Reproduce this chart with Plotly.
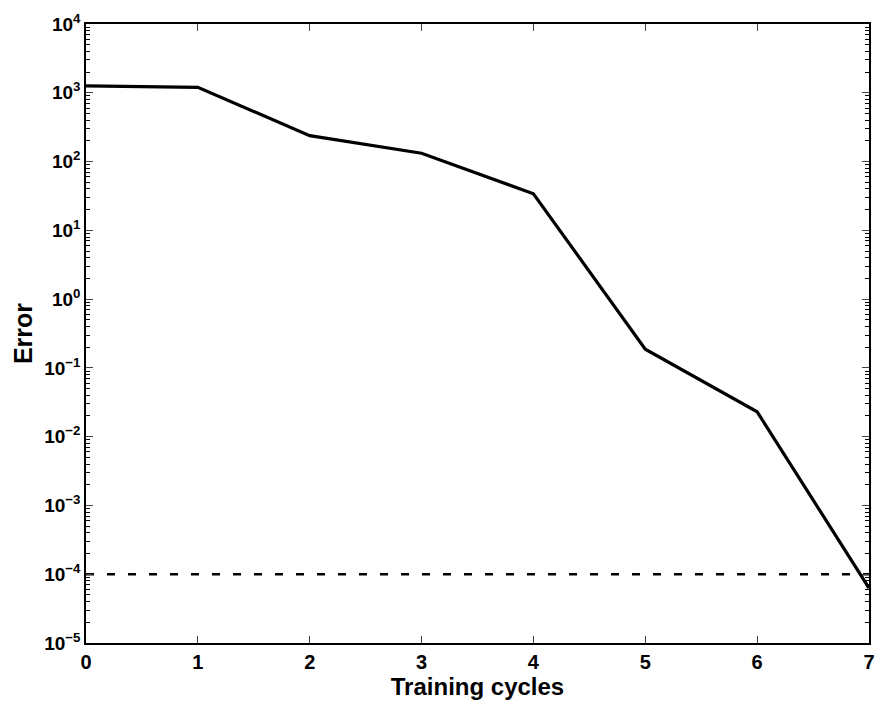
import plotly.graph_objects as go

cycles = [0, 1, 2, 3, 4, 5, 6, 7]
error = [1260, 1200, 238, 132, 34, 0.187, 0.023, 6.3e-5]
goal_x = [0, 7]
goal_y = [1e-4, 1e-4]

decades = [-5, -4, -3, -2, -1, 0, 1, 2, 3, 4]
tick_vals = [10.0 ** d for d in decades]
tick_text = ["10<sup>%s</sup>" % (str(d).replace("-", "\u2212")) for d in decades]
minor_vals = [m * 10.0 ** d for d in decades[:-1] for m in range(2, 10)]

fig = go.Figure()
fig.add_trace(go.Scatter(x=cycles, y=error, mode="lines",
                         line=dict(color="black", width=3.2), showlegend=False))
fig.add_trace(go.Scatter(x=goal_x, y=goal_y, mode="lines",
                         line=dict(color="black", width=2.6, dash="8px,13px"), showlegend=False))
# empty trace carrying the minor-tick axis
fig.add_trace(go.Scatter(x=[None], y=[None], yaxis="y2", showlegend=False, hoverinfo="skip"))

font_family = "Liberation Sans, Arial, sans-serif"
fig.update_layout(
    width=879, height=704,
    margin=dict(l=86, r=4, t=24, b=61),
    paper_bgcolor="white", plot_bgcolor="white",
    font=dict(family=font_family, color="black"),
    xaxis=dict(
        range=[0, 7], tickvals=cycles, ticks="inside", ticklen=7, tickwidth=1.2,
        showline=True, linecolor="black", linewidth=1.5, mirror="ticks",
        showgrid=False, zeroline=False,
        tickfont=dict(size=20, weight="bold", family=font_family),
        title=dict(text="Training cycles", font=dict(size=24, weight="bold", family=font_family), standoff=2),
    ),
    yaxis=dict(
        type="log", range=[-5, 4], tickvals=tick_vals, ticktext=tick_text,
        ticks="inside", ticklen=7, tickwidth=1.2,
        showline=True, linecolor="black", linewidth=1.5, mirror="ticks",
        showgrid=False, zeroline=False,
        tickfont=dict(size=19, weight="bold", family=font_family),
        title=dict(text="Error", font=dict(size=25, weight="bold", family=font_family), standoff=4),
    ),
    yaxis2=dict(
        type="log", range=[-5, 4], overlaying="y", side="left",
        tickmode="array", tickvals=minor_vals, showticklabels=False,
        ticks="inside", ticklen=4, tickwidth=1, tickcolor="black",
        showline=True, linecolor="black", linewidth=1.5, mirror="ticks",
        showgrid=False, zeroline=False,
    ),
)
fig.write_html("out.html")
